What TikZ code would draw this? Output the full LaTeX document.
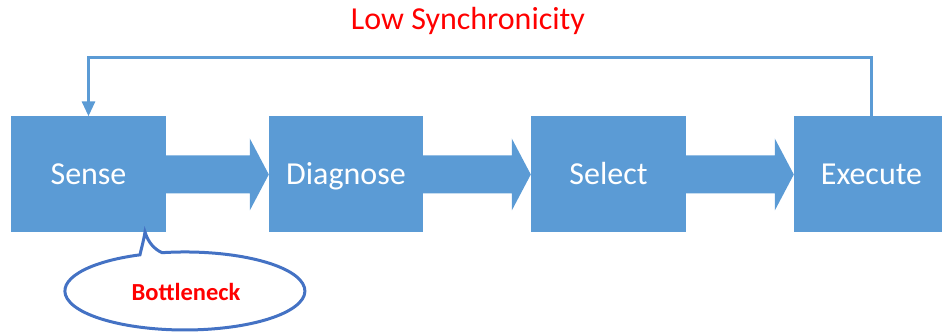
\documentclass[tikz,border=0pt]{standalone}
\usepackage{fontspec}
\setmainfont{Carlito}
\usetikzlibrary{calc,arrows.meta}
\definecolor{boxblue}{HTML}{5B9BD5}
\definecolor{calloutblue}{HTML}{4472C4}
\definecolor{alertred}{HTML}{FF0000}
\tikzset{
  stagebox/.style={fill=boxblue, draw=none, minimum width=155pt, minimum height=116pt,
    inner sep=0pt, text=white, font=\fontsize{32}{38}\selectfont,
    text height=20.6pt, text depth=0pt},
  feedback/.style={draw=boxblue, line width=3pt, -{Triangle[length=15pt,width=13pt]}},
  callout/.style={draw=calloutblue, line width=3pt, fill=white},
  redlabel/.style={text=alertred, inner sep=0pt, text depth=0pt},
}
% filled block arrow from the east side of #1 to the west side of #2
\newcommand{\blockarrow}[2]{%
  \fill[boxblue] ([yshift=19pt]#1.east) -- ([xshift=-19pt,yshift=19pt]#2.west)
    -- ([xshift=-19pt,yshift=36pt]#2.west) -- (#2.west)
    -- ([xshift=-19pt,yshift=-36pt]#2.west) -- ([xshift=-19pt,yshift=-19pt]#2.west)
    -- ([yshift=-19pt]#1.east) -- cycle;}
\begin{document}
\begin{tikzpicture}[x=1pt,y=1pt]
  \useasboundingbox (0,0) rectangle (942,334);
  \clip (0,0) rectangle (942,334);

  % process stages
  \node[stagebox] (sense)    at (88.5,159.5) {Sense};
  \node[stagebox, minimum width=154pt] (diagnose) at (346,159.5) {Diagnose};
  \node[stagebox] (select)   at (608.5,159.5) {Select};
  \node[stagebox] (execute)  at (871.5,159.5) {Execute};

  % forward flow
  \blockarrow{sense}{diagnose}
  \blockarrow{diagnose}{select}
  \blockarrow{select}{execute}

  % feedback loop from Execute back to Sense
  \coordinate (loopR) at (execute.north |- 0,276);
  \coordinate (loopL) at (sense.north |- 0,276);
  \draw[feedback] (execute.north) -- (loopR) -- (loopL) -- (sense.north);
  \node[redlabel, text height=20.6pt, font=\fontsize{32}{38}\selectfont] (lowsync) at (468,314.7) {Low Synchronicity};

  % speech-bubble callout under Sense
  \coordinate (tip) at (145,102);
  \draw[callout] (tip) .. controls (148,92) and (154,85) .. (162,81.3)
    arc[start angle=101, end angle=-248, x radius=120, y radius=39]
    .. controls (142,88) and (144,95) .. (tip) -- cycle;
  \node[redlabel, text height=15.8pt, font=\bfseries\fontsize{24.5}{29}\selectfont] (bottleneck) at (186,41.5) {Bottleneck};
\end{tikzpicture}
\end{document}
